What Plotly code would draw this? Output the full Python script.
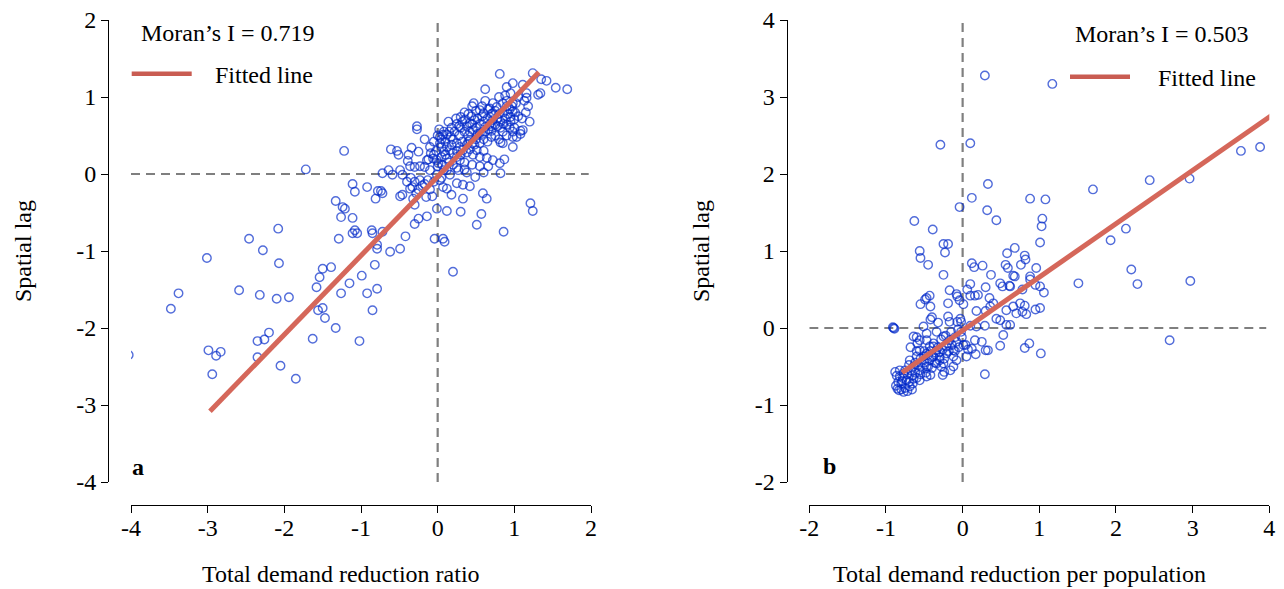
import plotly.graph_objects as go

# ---------------- data ----------------
# Panel a: Total demand reduction ratio vs spatial lag
a_x = [
    0.81, 1.24, 0.98, 0.90, 1.11, 1.35, 1.42, 1.54, 1.69, 0.62,
    1.34, 1.31, 1.16, 1.16, 1.13, 1.18, 0.47, 0.77, 0.85, 0.90,
    0.98, 0.98, 1.00, -0.27, -0.27, -0.17, -0.61, -0.53, -0.51, -0.34,
    -0.38, -0.39, -0.25, -1.22, 0.03, 0.07, 0.12, 0.17, 0.25, 0.30,
    0.36, 0.44, 0.42, 0.55, 0.60, 0.66, 0.72, 0.46, 0.55, 0.62,
    0.70, 0.75, 0.82, 0.90, 0.95, 1.01, 0.94, 1.11, 1.08, 0.98,
    1.03, 0.85, 0.82, 0.98, 0.87, 0.81, 0.82, 0.66, 0.64, 0.72,
    0.46, 0.51, 0.55, 0.25, 0.29, 0.33, 0.38, 0.42, 0.46, 0.20,
    0.25, 0.29, 0.12, 0.16, 0.03, 0.05, 0.08, -0.01, 0.01, -0.12,
    -0.09, -0.14, -0.17, -0.23, -0.30, -0.36, -0.72, -0.64, -0.59, -0.49,
    -0.46, -1.11, -0.92, 0.49, 0.35, 0.27, 0.12, 0.16, -0.23, -0.17,
    -0.13, -0.01, 0.03, -1.08, -0.81, -0.78, -0.74, -0.72, -1.24, -1.21,
    -1.11, -1.26, -1.11, -1.05, -1.08, -0.86, -0.85, -0.72, -1.29, -0.79,
    -0.79, -0.62, -0.49, -0.42, -0.82, -0.99, -1.15, -1.26, -0.92, -0.79,
    -0.85, -0.30, -0.25, -0.14, -0.01, 0.12, 0.30, 0.33, 0.59, 0.64,
    0.57, 0.51, 0.86, 1.21, 1.24, -0.04, 0.07, 0.09, 0.20, -0.49,
    -0.46, -0.36, -0.33, -0.30, -0.07, 0.07, 0.12, 0.18, 0.25, 0.33,
    0.42, -1.72, -1.33, -2.08, -2.46, -2.28, -2.07, -3.01, -1.50, -1.39,
    -1.54, -1.58, -3.38, -3.48, -2.59, -2.32, -2.10, -1.94, -1.56, -1.50,
    -1.47, -1.33, -1.63, -2.20, -2.26, -2.35, -2.35, -2.05, -1.85, -2.99,
    -2.89, -2.83, -2.94, -1.02, -4.03,
    0.05, 0.10, 0.15, 0.20, 0.22, 0.28, 0.30, 0.35, 0.38, 0.40,
    0.45, 0.48, 0.50, 0.52, 0.55, 0.58, 0.60, 0.62, 0.65, 0.68,
    0.70, 0.72, 0.75, 0.78, 0.80, 0.82, 0.85, 0.88, 0.90, 0.92,
    0.95, 0.97, 1.00, 1.02, 1.05, 0.60, 0.65, 0.70, 0.55, 0.50,
    0.42, 0.38, 0.32, 0.25, 0.18, 0.10, 0.12, 0.06, 0.20, 0.30,
    0.35, 0.45, 0.55, 0.60, 0.75, 0.80, 0.85, 0.90, 0.68, 0.58,
    0.50, 0.40, 0.35, 0.45, 0.62, 0.72, 0.80, 0.88, 0.95, 1.05,
    0.78, 0.66, 0.52, 0.42, 0.28, 0.18, 0.08, 0.00, 0.02, -0.05,
    -0.10, 0.14, 0.24, 0.32, 0.40, 0.48, 0.58, 0.70, 0.86, 0.94,
    1.10, 1.15, 1.20, 1.08, 0.98, 0.25, 0.15, 0.05, 0.38, 0.60,
    -0.35, -0.30, -0.25, -0.28, -0.20, -0.15, -0.10, -0.05, -0.40, -0.32,
    -0.10, -0.05, 0.00, -0.02, -0.06, 0.05, 0.08,
]
a_y = [
    1.30, 1.31, 1.18, 1.13, 1.16, 1.23, 1.21, 1.12, 1.10, 1.10,
    1.05, 1.03, 1.05, 0.99, 0.95, 0.88, 0.92, 0.87, 0.92, 0.88,
    0.92, 0.81, 0.71, 0.62, 0.58, 0.45, 0.32, 0.30, 0.25, 0.34,
    0.25, 0.17, 0.29, 0.30, 0.48, 0.51, 0.51, 0.48, 0.65, 0.74,
    0.71, 0.75, 0.66, 0.83, 0.79, 0.84, 0.79, 0.57, 0.53, 0.61,
    0.56, 0.64, 0.68, 0.64, 0.74, 0.80, 0.84, 0.57, 0.56, 0.48,
    0.48, 0.40, 0.41, 0.35, 0.19, 0.14, 0.01, 0.10, 0.21, 0.18,
    0.25, 0.31, 0.22, 0.40, 0.35, 0.31, 0.38, 0.44, 0.40, 0.27,
    0.22, 0.18, 0.35, 0.31, 0.40, 0.35, 0.29, 0.18, 0.14, 0.19,
    0.27, 0.18, 0.09, 0.10, 0.09, 0.10, 0.01, 0.05, -0.01, 0.05,
    -0.01, -0.13, -0.17, -0.04, 0.06, 0.05, 0.05, -0.01, -0.08, -0.13,
    -0.08, -0.01, -0.08, -0.23, -0.32, -0.22, -0.22, -0.25, -0.43, -0.45,
    -0.57, -0.56, -0.77, -0.77, -0.73, -0.73, -0.77, -0.75, -0.84, -0.92,
    -0.97, -1.01, -0.97, -0.81, -1.18, -1.32, -1.42, -1.55, -1.55, -1.49,
    -1.77, -0.65, -0.58, -0.55, -0.45, -0.48, -0.49, -0.32, -0.25, -0.32,
    -0.52, -0.66, -0.75, -0.38, -0.48, -0.84, -0.84, -0.88, -1.27, -0.29,
    -0.27, -0.19, -0.17, -0.40, -0.29, -0.17, -0.19, -0.27, -0.12, -0.14,
    -0.16, 0.06, -0.35, -0.71, -0.84, -0.99, -1.16, -1.09, -1.23, -1.21,
    -1.34, -1.47, -1.55, -1.75, -1.51, -1.57, -1.62, -1.60, -1.77, -1.74,
    -1.87, -2.00, -2.14, -2.06, -2.15, -2.17, -2.38, -2.49, -2.66, -2.29,
    -2.36, -2.31, -2.60, -2.17, -2.35,
    0.45, 0.42, 0.55, 0.45, 0.55, 0.50, 0.60, 0.55, 0.62, 0.50,
    0.65, 0.70, 0.60, 0.72, 0.65, 0.75, 0.68, 0.55, 0.72, 0.65,
    0.78, 0.70, 0.82, 0.72, 0.78, 0.60, 0.80, 0.72, 0.95, 0.78,
    0.68, 0.88, 0.60, 0.92, 0.75, 0.45, 0.42, 0.48, 0.40, 0.45,
    0.32, 0.28, 0.42, 0.30, 0.38, 0.25, 0.20, 0.12, 0.12, 0.25,
    0.15, 0.12, 0.10, 0.30, 0.50, 0.45, 0.55, 0.50, 0.85, 0.88,
    0.82, 0.78, 0.80, 0.88, 0.95, 0.92, 1.00, 1.02, 1.05, 1.00,
    0.62, 0.58, 0.52, 0.55, 0.62, 0.60, 0.55, 0.50, 0.58, 0.42,
    0.35, 0.68, 0.72, 0.68, 0.42, 0.38, 0.52, 0.62, 0.65, 0.60,
    0.72, 0.80, 0.68, 0.52, 0.55, 0.08, 0.15, 0.22, 0.02, 0.02,
    -0.05, -0.10, -0.20, -0.25, -0.15, -0.30, -0.20, -0.10, -0.10, -0.32,
    0.05, 0.25, 0.10, 0.30, 0.20, -0.05, 0.05,
]

# Panel b: Total demand reduction per population vs spatial lag
b_x = [
    0.29, 1.17, -0.29, 0.10, 3.63, 3.88, 2.44, 2.96, 1.70, 0.33,
    0.12, -0.04, 0.32, 0.44, 0.88, 1.08, -0.63, -0.39, 1.04, 1.03,
    1.01, 2.13, 1.93, 2.20, 2.28, 2.97, 1.51, -0.56, -0.55, -0.45,
    -0.25, -0.19, -0.23, -0.25, 0.68, 0.58, 0.81, 0.82, 0.76, 0.96,
    0.56, 0.59, 0.12, 0.15, 0.26, 0.37, 0.66, 0.68, 0.88, 0.88,
    0.10, 0.30, 0.49, 0.52, 0.61, 0.62, 0.95, 1.06, 0.78, -0.17,
    -0.08, 0.10, 0.16, 0.20, 0.35, -0.47, -0.43, 2.70, 1.01, 1.01,
    1.02, -0.90, -0.91, -0.89, -0.55, -0.49, -0.42, -0.19, -0.07, -0.04,
    0.01, 0.06, 0.18, 0.30, 0.36, 0.40, 0.57, 0.66, 0.75, 0.81,
    0.70, 0.49, 0.44, 0.57, 0.62, 0.95, 0.78, 0.83, 0.29, 0.10,
    0.18, 0.16, 0.25, 0.30, 0.33, 0.49, 0.53, 0.81, 0.87, 0.12,
    0.17, 0.29, 0.04, 0.07, 0.05, -0.08, -0.12, -0.16, -0.26, -0.24,
    -0.42, -0.47, -0.87, -0.83, -0.77, -0.85, -0.88, -0.82, -0.68, -0.60,
    -0.59, -0.40, -0.42, -0.32, -0.19, -0.17, -0.07, -0.02, -0.02, -0.01,
    0.01, -0.34, -0.25, -0.17, -0.08, -0.47, -0.38, -0.30, -0.21, -0.12,
    -0.56, -0.51, -0.43, -0.34, -0.69, -0.64, -0.56, -0.47, -0.60, -0.77,
    -0.73, -0.64, -0.56, -0.69, -0.82, -0.79, -0.47, -0.38, -0.30, -0.25,
    -0.21, -0.12, -0.34, -0.43, -0.56, -0.64, -0.51, -0.47,
    -0.80, -0.78, -0.75, -0.72, -0.70, -0.68, -0.66, -0.65, -0.62, -0.62,
    -0.60, -0.58, -0.55, -0.55, -0.52, -0.50, -0.50, -0.48, -0.45, -0.45,
    -0.42, -0.40, -0.40, -0.38, -0.36, -0.35, -0.32, -0.30, -0.28, -0.28,
    -0.26, -0.24, -0.22, -0.20, -0.18, -0.15, -0.14, -0.10, -0.10, -0.06,
    -0.05, -0.03, -0.60, -0.70, -0.75, -0.84, -0.86, -0.80, -0.72, -0.66,
]
b_y = [
    3.28, 3.17, 2.38, 2.40, 2.30, 2.35, 1.92, 1.94, 1.80, 1.87,
    1.69, 1.57, 1.53, 1.40, 1.68, 1.67, 1.39, 1.28, 1.42, 1.32,
    1.11, 1.29, 1.14, 0.76, 0.57, 0.61, 0.58, 1.00, 0.91, 0.82,
    1.09, 1.09, 0.98, 0.69, 1.04, 0.97, 0.94, 0.89, 0.82, 0.78,
    0.82, 0.78, 0.84, 0.79, 0.81, 0.69, 0.68, 0.67, 0.67, 0.63,
    0.57, 0.53, 0.58, 0.54, 0.55, 0.54, 0.56, 0.46, 0.50, 0.49,
    0.44, 0.42, 0.42, 0.43, 0.39, 0.39, 0.42, -0.16, 0.54, 0.26,
    -0.33, 0.00, 0.01, -0.01, 0.31, 0.37, 0.28, 0.32, 0.41, 0.36,
    0.31, 0.50, 0.22, 0.22, 0.28, 0.32, 0.23, 0.28, 0.32, 0.29,
    0.19, 0.10, 0.12, 0.04, 0.04, 0.24, 0.21, 0.18, 0.03, 0.03,
    0.02, -0.16, -0.18, -0.29, -0.29, -0.23, -0.09, -0.26, -0.20, -0.27,
    -0.34, -0.60, -0.22, -0.28, -0.37, -0.42, -0.50, -0.55, -0.61, -0.57,
    -0.61, -0.63, -0.75, -0.81, -0.83, -0.79, -0.57, -0.55, -0.25, -0.12,
    -0.20, 0.14, 0.11, 0.07, 0.15, 0.08, 0.08, 0.08, -0.05, -0.12,
    -0.22, -0.05, -0.11, -0.16, -0.18, -0.16, -0.24, -0.31, -0.33, -0.37,
    -0.29, -0.37, -0.42, -0.46, -0.42, -0.50, -0.55, -0.50, -0.37, -0.59,
    -0.68, -0.66, -0.68, -0.76, -0.63, -0.69, -0.33, -0.37, -0.42, -0.46,
    -0.24, -0.29, -0.29, -0.24, -0.16, -0.11, 0.02, -0.07,
    -0.72, -0.65, -0.78, -0.60, -0.70, -0.55, -0.62, -0.72, -0.45, -0.58,
    -0.65, -0.48, -0.40, -0.60, -0.52, -0.30, -0.45, -0.58, -0.35, -0.50,
    -0.30, -0.38, -0.52, -0.20, -0.45, -0.32, -0.25, -0.38, -0.15, -0.50,
    -0.28, -0.40, -0.10, -0.20, -0.30, -0.05, -0.22, -0.12, -0.30, -0.02,
    -0.25, 0.12, -0.30, -0.48, -0.55, -0.70, -0.62, -0.80, -0.82, -0.80,
]

# fitted lines (end points)
fit_a_x = [-2.97, 1.32]
fit_a_y = [-3.08, 1.32]
fit_b_x = [-0.79, 4.10]
fit_b_y = [-0.58, 2.81]

# axis ticks
a_xticks = [-4, -3, -2, -1, 0, 1, 2]
a_yticks = [-4, -3, -2, -1, 0, 1, 2]
b_xticks = [-2, -1, 0, 1, 2, 3, 4]
b_yticks = [-2, -1, 0, 1, 2, 3, 4]
a_xlabels = ["-4", "-3", "-2", "-1", "0", "1", "2"]
a_ylabels = ["-4", "-3", "-2", "-1", "0", "1", "2"]
b_xlabels = ["-2", "-1", "0", "1", "2", "3", "4"]
b_ylabels = ["-2", "-1", "0", "1", "2", "3", "4"]

moran_a = "Moran\u2019s I = 0.719"
moran_b = "Moran\u2019s I = 0.503"
legend_text = "Fitted line"
xtitle_a = "Total demand reduction ratio"
xtitle_b = "Total demand reduction per population"
ytitle = "Spatial lag"

# ---------------- styling / layout ----------------
# the page body has an 8px margin, so the figure starts at window pixel (8, 8)
OFF = 8
W, H = 1284 - OFF, 589 - OFF


def fx(p):
    return (p - OFF) / W


def fy(p):
    return 1 - (p - OFF) / H


FONT = "Liberation Serif, Times New Roman, serif"
PT_COLOR = "rgba(0,40,200,0.68)"
FIT_COLOR = "#D5675A"
LEG_COLOR = "#C95C52"
DASH_COLOR = "#7f7f7f"
FS = 24

fig = go.Figure()

# dashed reference lines
dash = dict(color=DASH_COLOR, width=2.2, dash="9px,6px")
fig.add_trace(go.Scatter(x=[-4, 1.97], y=[0, 0], mode="lines", line=dash,
                         xaxis="x", yaxis="y", hoverinfo="skip"))
fig.add_trace(go.Scatter(x=[0, 0], y=[-4, 1.96], mode="lines", line=dash,
                         xaxis="x", yaxis="y", hoverinfo="skip"))
fig.add_trace(go.Scatter(x=[-2, 3.96], y=[0, 0], mode="lines", line=dash,
                         xaxis="x2", yaxis="y2", hoverinfo="skip"))
fig.add_trace(go.Scatter(x=[0, 0], y=[-2, 3.96], mode="lines", line=dash,
                         xaxis="x2", yaxis="y2", hoverinfo="skip"))

marker = dict(symbol="circle-open", size=8.5, color=PT_COLOR, line=dict(width=1.4))
fig.add_trace(go.Scatter(x=a_x, y=a_y, mode="markers", marker=marker,
                         xaxis="x", yaxis="y"))
fig.add_trace(go.Scatter(x=b_x, y=b_y, mode="markers", marker=marker,
                         xaxis="x2", yaxis="y2"))

fig.add_trace(go.Scatter(x=fit_a_x, y=fit_a_y, mode="lines",
                         line=dict(color=FIT_COLOR, width=5), xaxis="x", yaxis="y"))
fig.add_trace(go.Scatter(x=fit_b_x, y=fit_b_y, mode="lines",
                         line=dict(color=FIT_COLOR, width=5), xaxis="x2", yaxis="y2"))

axis_common = dict(
    showline=True, linecolor="black", linewidth=1.3,
    ticks="outside", ticklen=7, tickwidth=1.3, tickcolor="black",
    showgrid=False, zeroline=False, anchor="free", fixedrange=True,
    automargin=False, ticklabeloverflow="allow",
    tickfont=dict(family=FONT, size=FS, color="black"),
)

ydom = [fy(482), fy(20)]
fig.update_layout(
    width=W, height=H, autosize=False,
    margin=dict(l=0, r=0, t=0, b=0, pad=0, autoexpand=False),
    paper_bgcolor="white", plot_bgcolor="white",
    showlegend=False,
    xaxis=dict(domain=[fx(131), fx(591)], range=[-4, 2], position=fy(505.3),
               tickvals=a_xticks, ticktext=a_xlabels, ticklabelstandoff=-6,
               **axis_common),
    yaxis=dict(domain=ydom, range=[-4, 2], position=fx(108.3),
               tickvals=a_yticks, ticktext=a_ylabels, **axis_common),
    xaxis2=dict(domain=[fx(809.3), fx(1269.3)], range=[-2, 4], position=fy(505.3),
                tickvals=b_xticks, ticktext=b_xlabels, ticklabelstandoff=-6,
                **axis_common),
    yaxis2=dict(domain=ydom, range=[-2, 4], position=fx(786.7),
                tickvals=b_yticks, ticktext=b_ylabels, **axis_common),
)

txt = dict(family=FONT, size=FS, color="black")
ann = []
ann.append(dict(x=fx(139), y=fy(33), xref="paper", yref="paper", text=moran_a,
                xanchor="left", yanchor="middle", showarrow=False, font=txt))
ann.append(dict(x=fx(212.7), y=fy(75), xref="paper", yref="paper", text=legend_text,
                xanchor="left", yanchor="middle", showarrow=False, font=txt))
ann.append(dict(x=fx(1251), y=fy(34), xref="paper", yref="paper", text=moran_b,
                xanchor="right", yanchor="middle", showarrow=False, font=txt))
ann.append(dict(x=fx(1156), y=fy(78), xref="paper", yref="paper", text=legend_text,
                xanchor="left", yanchor="middle", showarrow=False, font=txt))
ann.append(dict(x=fx(138), y=fy(467), xref="paper", yref="paper", text="<b>a</b>",
                xanchor="center", yanchor="middle", showarrow=False, font=txt))
ann.append(dict(x=fx(829), y=fy(466), xref="paper", yref="paper", text="<b>b</b>",
                xanchor="center", yanchor="middle", showarrow=False, font=txt))
ann.append(dict(x=fx(341), y=fy(574), xref="paper", yref="paper", text=xtitle_a,
                xanchor="center", yanchor="middle", showarrow=False, font=txt))
ann.append(dict(x=fx(1019), y=fy(574), xref="paper", yref="paper", text=xtitle_b,
                xanchor="center", yanchor="middle", showarrow=False, font=txt))
ann.append(dict(x=fx(9), y=fy(251), xref="paper", yref="paper", text=ytitle,
                textangle=-90, xanchor="left", yanchor="middle", showarrow=False,
                borderpad=0, font=txt))
ann.append(dict(x=fx(701), y=fy(251), xref="paper", yref="paper", text=ytitle,
                textangle=-90, xanchor="center", yanchor="middle", showarrow=False, font=txt))
fig.update_layout(annotations=ann)

shapes = [
    dict(type="line", xref="paper", yref="paper", x0=fx(131.7), x1=fx(191.7),
         y0=fy(73.7), y1=fy(73.7), line=dict(color=LEG_COLOR, width=4.5)),
    dict(type="line", xref="paper", yref="paper", x0=fx(1070), x1=fx(1130),
         y0=fy(76.7), y1=fy(76.7), line=dict(color=LEG_COLOR, width=4.5)),
]
fig.update_layout(shapes=shapes)

fig.write_html("out.html")
